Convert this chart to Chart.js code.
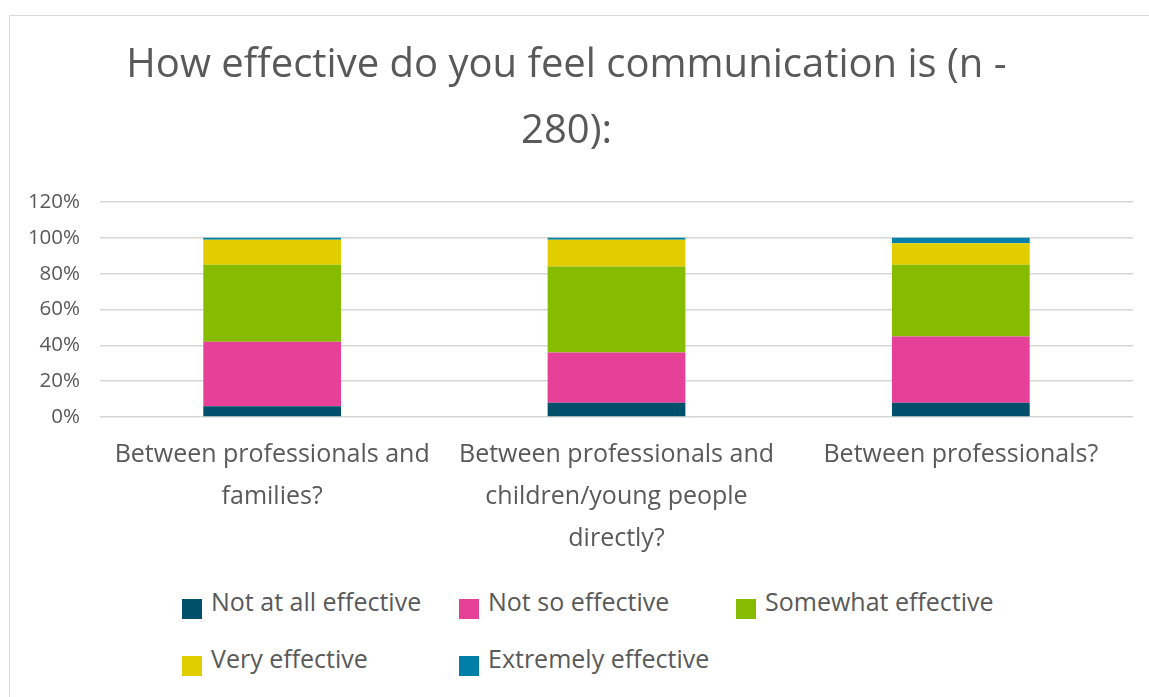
<!DOCTYPE html>
<html>
<head>
<meta charset="utf-8">
<title>Communication effectiveness</title>
<script src="https://cdn.jsdelivr.net/npm/chart.js@4.4.0/dist/chart.umd.min.js"></script>
<style>
  body { margin: 0; background: #fff; font-family: "Open Sans", sans-serif; }
  #frame {
    position: absolute; left: 9px; top: 15px; width: 1160px; height: 700px;
    border-left: 1px solid #d9d9d9; border-top: 1px solid #d9d9d9;
  }
  #wrap { position: absolute; left: 0; top: 0; width: 1149px; height: 580px; }
  .item { position: absolute; font-size: 25px; line-height: 26px; color: #595959; white-space: nowrap; }
  .item .box { position: absolute; left: 0; top: 11px; width: 20px; height: 20px; }
  .item span { position: absolute; left: 29px; top: 0; }
</style>
</head>
<body>
<div id="frame"></div>
<div id="wrap"><canvas id="myChart"></canvas></div>
<div id="legend"></div>

<script>
const categories = [
  ["Between professionals and", "families?"],
  ["Between professionals and", "children/young people", "directly?"],
  ["Between professionals?"]
];

// share of responses (%) for each answer, per category
const notAtAll = [6, 8, 8];
const notSo = [36, 28, 37];
const somewhat = [43, 48, 40];
const very = [14, 15, 12];
const extremely = [1, 1, 3];

const seriesNames = ["Not at all effective", "Not so effective", "Somewhat effective", "Very effective", "Extremely effective"];
const seriesColors = ["#01506b", "#e64099", "#86bc00", "#e2cd00", "#0080a8"];
const seriesData = [notAtAll, notSo, somewhat, very, extremely];

const yTicks = [0, 20, 40, 60, 80, 100, 120];

const textColor = "#595959";

let datasets = seriesNames.map((name, i) => {
  return {
    label: name,
    data: seriesData[i],
    backgroundColor: seriesColors[i],
    borderWidth: 0,
    categoryPercentage: 1,
    barPercentage: 0.4
  };
});

let ctx = document.getElementById("myChart").getContext("2d");

let myChart = new Chart(ctx, {
  type: "bar",
  data: {
    labels: categories,
    datasets
  },
  options: {
    responsive: true,
    maintainAspectRatio: false,
    animation: false,
    layout: { padding: { left: 0, right: 16, top: 0, bottom: 0 } },
    plugins: {
      legend: { display: false },
      tooltip: { enabled: false },
      title: {
        display: true,
        text: ["How effective do you feel communication is (n -", "280):"],
        color: textColor,
        font: { family: "Open Sans", size: 40, weight: "normal", lineHeight: 1.65 },
        padding: { top: 33, bottom: 37 }
      }
    },
    scales: {
      x: {
        stacked: true,
        grid: { display: false, drawTicks: false },
        border: { display: false },
        ticks: {
          color: textColor,
          font: { family: "Open Sans", size: 25, lineHeight: 1.68 },
          padding: 17,
          autoSkip: false,
          maxRotation: 0,
          minRotation: 0
        },
        afterFit: scale => { scale.height = 163; }
      },
      y: {
        stacked: true,
        min: 0,
        max: 120,
        afterBuildTicks: scale => {
          scale.ticks = yTicks.map(v => ({ value: v }));
        },
        grid: { color: "#d6d6d6", lineWidth: 1.5, drawTicks: false },
        border: { display: false },
        ticks: {
          color: textColor,
          font: { family: "Open Sans", size: 20.5 },
          padding: 20,
          callback: v => v + "%"
        },
        afterFit: scale => { scale.width = 100; }
      }
    }
  }
});

// legend laid out in a three column grid under the chart
let legendEl = document.querySelector("#legend");
seriesNames.forEach((name, i) => {
  let item = document.createElement("div");
  item.className = "item";
  item.style.left = (182 + (i % 3) * 277) + "px";
  item.style.top = (588 + Math.floor(i / 3) * 57) + "px";
  item.innerHTML = `<div class="box" style="background:${seriesColors[i]}"></div><span>${name}</span>`;
  legendEl.appendChild(item);
});
</script>
</body>
</html>
